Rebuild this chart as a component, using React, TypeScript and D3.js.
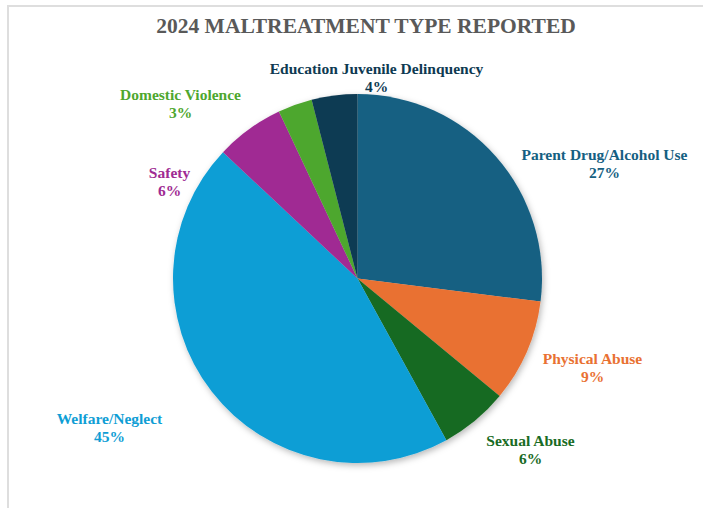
import React from 'react'
import * as d3 from 'd3'

// chart data
const categories = [
  'Parent Drug/Alcohol Use',
  'Physical Abuse',
  'Sexual Abuse',
  'Welfare/Neglect',
  'Safety',
  'Domestic Violence',
  'Education Juvenile Delinquency',
]
const shares = [27, 9, 6, 45, 6, 3, 4]
const colors = ['#156082', '#E97132', '#196B24', '#0F9ED5', '#A02B93', '#4EA72E', '#0E3A52']
const title = '2024 MALTREATMENT TYPE REPORTED'

// label placement (offset of the label centre from the pie centre), picked by hand like Excel does
const labelOffsets: [number, number][] = [
  [247, -115],
  [235, 89],
  [173, 171],
  [-248, 149],
  [-188, -97],
  [-177, -175],
  [19, -201],
]

const W = 703
const H = 508
const cx = 357.5
const cy = 278.5
const R = 184.5
const font = "'Liberation Serif', 'Times New Roman', serif"

export default function App() {
  const pie = d3.pie<number>().sort(null).value(d => d)
  const arcs = pie(shares)
  const arc = d3.arc<d3.PieArcDatum<number>>().innerRadius(0).outerRadius(R)

  return (
    <svg
      width={W}
      height={H}
      style={{ position: 'absolute', left: 0, top: 0, background: '#fff' }}
    >
      <defs>
        <filter id="pieShadow" x="-20%" y="-20%" width="140%" height="140%">
          <feDropShadow dx="1.5" dy="2.5" stdDeviation="3" floodColor="#000" floodOpacity="0.28" />
        </filter>
      </defs>

      {/* chart frame */}
      <rect x={8} y={6} width={W + 20} height={H + 20} fill="#fff" stroke="#dedede" strokeWidth={2} />

      <text
        x={366}
        y={33}
        textAnchor="middle"
        fontFamily={font}
        fontWeight="bold"
        fontSize={21.5}
        fill="#595959"
      >
        {title}
      </text>

      <g transform={`translate(${cx},${cy})`}>
        <g filter="url(#pieShadow)">
          {arcs.map((a, i) => (
            <path key={categories[i]} d={arc(a) || ''} fill={colors[i]} />
          ))}
        </g>

        {arcs.map((a, i) => {
          const [dx, dy] = labelOffsets[i]
          return (
            <text
              key={'lbl' + i}
              x={dx}
              y={dy}
              textAnchor="middle"
              fontFamily={font}
              fontWeight="bold"
              fontSize={15.5}
              fill={colors[i]}
            >
              <tspan x={dx} dy={-4}>{categories[i]}</tspan>
              <tspan x={dx} dy={18}>{`${a.data}%`}</tspan>
            </text>
          )
        })}
      </g>
    </svg>
  )
}
